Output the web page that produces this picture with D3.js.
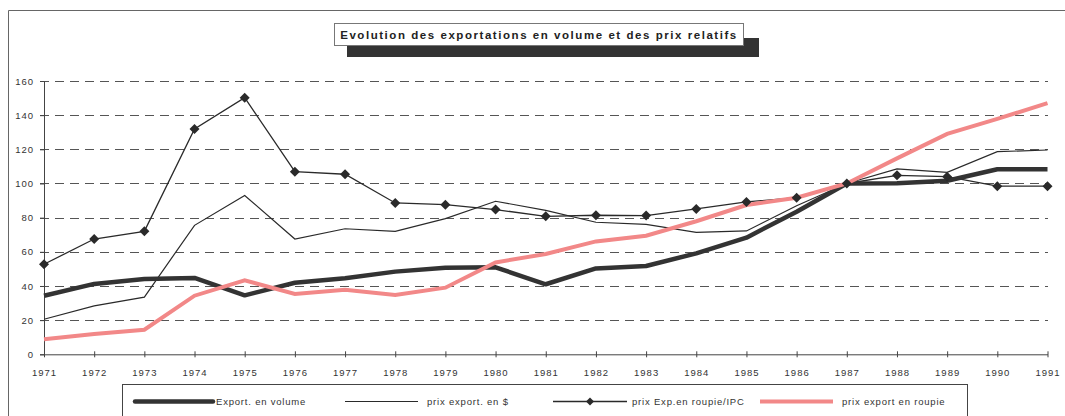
<!DOCTYPE html>
<html>
<head>
<meta charset="utf-8">
<script src="https://cdn.jsdelivr.net/npm/d3@7"></script>
<style>
  body { margin: 0; background: #fff; }
  text { font-family: "Liberation Sans", Arial, sans-serif; fill: #333; }
</style>
</head>
<body>
<div id="chart"></div>
<script>
// Data
const years = d3.range(1971, 1992);
const yTicks = [0, 20, 40, 60, 80, 100, 120, 140, 160];

const exportVolume = [34.3, 41.2, 44.1, 44.7, 34.5, 41.9, 44.5, 48.4, 50.7, 50.9, 41.0,
  50.3, 51.7, 59.1, 68.3, 83.5, 100, 100.1, 101.6, 108.3, 108.3];
const prixDollar = [20.5, 28.3, 33.5, 75.5, 93.0, 67.5, 73.5, 72.0, 79.4, 89.6, 84.3,
  77.3, 76.1, 71.4, 72.2, 87.0, 100, 108.5, 106.5, 118.6, 119.6];
const prixRoupieIPC = [52.7, 67.5, 72.0, 131.9, 150.2, 106.9, 105.4, 88.6, 87.6, 84.7, 80.8,
  81.4, 81.2, 85.1, 89.2, 91.7, 100, 104.8, 104.0, 98.4, 98.4];
const prixRoupie = [8.8, 11.9, 14.4, 34.3, 43.3, 35.3, 37.8, 34.7, 39.0, 53.8, 58.7,
  66.1, 69.4, 77.9, 87.4, 91.7, 100, 114.7, 129.0, 137.8, 147.0];

const seriesNames = ['Export. en volume', 'prix export. en $', 'prix Exp.en roupie/IPC', 'prix export en roupie'];

const W = 1065, H = 416;
const svg = d3.select('#chart').append('svg')
  .attr('width', W).attr('height', H);

// outer frame (left + top only visible)
svg.append('path')
  .attr('d', `M8.5,${H} V10.5 H${W}`)
  .attr('fill', 'none').attr('stroke', '#666').attr('stroke-width', 1);

const x = d3.scaleLinear().domain([1971, 1991]).range([44, 1047.5]);
const y = d3.scaleLinear().domain([0, 160]).range([354.3, 81]);

// title box with shadow
svg.append('rect').attr('x', 347).attr('y', 38).attr('width', 412).attr('height', 19)
  .attr('fill', '#333');
svg.append('rect').attr('x', 334.5).attr('y', 23.5).attr('width', 409).attr('height', 22)
  .attr('fill', '#fff').attr('stroke', '#777').attr('stroke-width', 1);
svg.append('text')
  .attr('x', 539).attr('y', 38.5)
  .attr('text-anchor', 'middle')
  .style('font-size', '11.5px').style('font-weight', 'bold')
  .style('letter-spacing', '1.55px').style('fill', '#222')
  .text('Evolution des exportations en volume et des prix relatifs');

// gridlines
svg.append('g')
  .selectAll('line')
  .data(yTicks.filter(d => d > 0))
  .join('line')
  .attr('x1', 40).attr('x2', 1048)
  .attr('y1', d => Math.round(y(d)) + 0.5).attr('y2', d => Math.round(y(d)) + 0.5)
  .attr('stroke', '#555').attr('stroke-width', 1)
  .attr('stroke-dasharray', '9,6');

// y axis
const yAxis = svg.append('g')
  .attr('transform', 'translate(44,0)')
  .call(d3.axisLeft(y).tickValues(yTicks).tickSize(4).tickPadding(6));
yAxis.select('.domain').attr('stroke', '#444');
yAxis.selectAll('.tick line').attr('stroke', '#444');
yAxis.selectAll('text').style('font-size', '9.5px').style('letter-spacing', '1px')
  .style('font-family', '"Liberation Sans", Arial, sans-serif').attr('fill', '#333');

// x axis
const xAxis = svg.append('g')
  .attr('transform', `translate(0,${y(0)})`)
  .call(d3.axisBottom(x).tickValues(years).tickFormat(d3.format('d'))
    .tickSizeInner(3).tickSizeOuter(0).tickPadding(12));
xAxis.select('.domain').attr('stroke', '#444');
xAxis.selectAll('.tick line').attr('stroke', '#444').attr('y1', -3).attr('y2', 3);
xAxis.selectAll('text').style('font-size', '9.5px').style('letter-spacing', '1px')
  .style('font-family', '"Liberation Sans", Arial, sans-serif').attr('fill', '#333');

const line = d3.line().x((d, i) => x(years[i])).y(d => y(d));

// series
svg.append('path').datum(prixRoupieIPC).attr('d', line)
  .attr('fill', 'none').attr('stroke', '#2a2a2a').attr('stroke-width', 1.3);
svg.append('path').datum(prixDollar).attr('d', line)
  .attr('fill', 'none').attr('stroke', '#2a2a2a').attr('stroke-width', 1.2);
svg.append('path').datum(exportVolume).attr('d', line)
  .attr('fill', 'none').attr('stroke', '#333').attr('stroke-width', 4.5)
  .attr('stroke-linejoin', 'round');
svg.append('path').datum(prixRoupie).attr('d', line)
  .attr('fill', 'none').attr('stroke', '#f28888').attr('stroke-width', 4);

// square diamond marker
const diamond = 'M0,-5L5,0L0,5L-5,0Z';
svg.append('g').selectAll('path')
  .data(prixRoupieIPC)
  .join('path')
  .attr('d', diamond)
  .attr('transform', (d, i) => `translate(${x(years[i])},${y(d)})`)
  .attr('fill', '#2a2a2a');

// legend
svg.append('rect').attr('x', 122.5).attr('y', 384.5).attr('width', 845).attr('height', 40)
  .attr('fill', '#fff').attr('stroke', '#444').attr('stroke-width', 1);

const ly = 401.5;
const legendItems = [
  { x1: 135, x2: 213, tx: 216, stroke: '#333', w: 4.5, marker: false },
  { x1: 345, x2: 418, tx: 427, stroke: '#2a2a2a', w: 1.2, marker: false },
  { x1: 553, x2: 627, tx: 632, stroke: '#2a2a2a', w: 1.3, marker: true },
  { x1: 760, x2: 833, tx: 842, stroke: '#f28888', w: 4, marker: false }
];
legendItems.forEach((it, i) => {
  svg.append('line').attr('x1', it.x1).attr('x2', it.x2).attr('y1', ly).attr('y2', ly)
    .attr('stroke', it.stroke).attr('stroke-width', it.w)
    .attr('stroke-linecap', i === 0 ? 'round' : 'butt');
  if (it.marker) {
    svg.append('path').attr('d', 'M0,-4L4,0L0,4L-4,0Z')
      .attr('transform', `translate(${(it.x1 + it.x2) / 2},${ly})`)
      .attr('fill', '#2a2a2a');
  }
  svg.append('text').attr('x', it.tx).attr('y', ly + 3.5)
    .style('font-size', '9.5px').style('letter-spacing', '0.8px')
    .text(seriesNames[i]);
});
</script>
</body>
</html>
